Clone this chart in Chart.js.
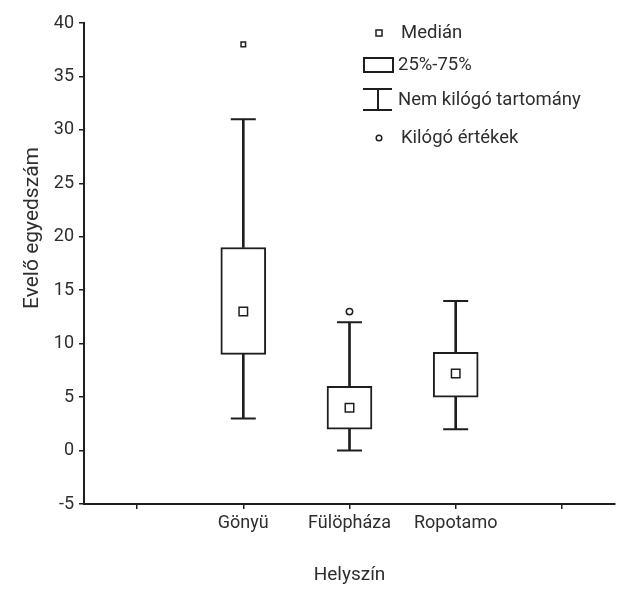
<!DOCTYPE html>
<html><head><meta charset="utf-8">
<script src="https://cdn.jsdelivr.net/npm/chart.js@4/dist/chart.umd.min.js"></script>
<style>html,body{margin:0;padding:0;background:#fff;overflow:hidden}#wrap{width:619px;height:590px;overflow:hidden}canvas{display:block}</style>
</head><body><div id="wrap"><canvas id="c" width="619" height="590"></canvas></div>
<script>
// ---- data ----
const categories = ['', 'Gönyü', 'Fülöpháza', 'Ropotamo', ''];
const q1 = [null, 9, 2, 5, null];
const q3 = [null, 19, 6, 9.2, null];
const median = [null, 13, 4, 7.2, null];
const whiskerMin = [null, 3, 0, 2, null];
const whiskerMax = [null, 31, 12, 14, null];
const outliers = [null, 38, 13, null, null];
const outlierStyles = ['circle', 'rect', 'circle', 'circle', 'circle'];
const yTicks = [-5, 0, 5, 10, 15, 20, 25, 30, 35, 40];
const legendLabels = ['Medián', '25%-75%', 'Nem kilógó tartomány', 'Kilógó értékek'];
const yTitle = 'Evelő egyedszám';
const xTitle = 'Helyszín';

// ---- style ----
const FONT = 'Roboto, "Liberation Sans", sans-serif';
const INK = '#1e1e1e';
const TXT = '#2e2e2e';

const pair = (a, b) => categories.map((c, i) => (a[i] == null ? null : [a[i], b[i]]));

const extras = {
  id: 'extras',
  afterDraw(chart) {
    const ctx = chart.ctx;
    ctx.save();
    // y title
    ctx.fillStyle = TXT;
    ctx.font = '21px ' + FONT;
    ctx.textAlign = 'center';
    ctx.textBaseline = 'middle';
    ctx.translate(33, 228);
    ctx.rotate(-Math.PI / 2);
    ctx.fillText(yTitle, 0, 0);
    ctx.restore();

    // legend
    ctx.save();
    ctx.strokeStyle = INK;
    ctx.fillStyle = TXT;
    ctx.font = '18.5px ' + FONT;
    ctx.textAlign = 'left';
    ctx.textBaseline = 'middle';
    const rows = [33, 65, 100, 138];
    // median marker
    ctx.lineWidth = 1.5;
    ctx.strokeRect(376, rows[0] - 3, 6, 6);
    ctx.fillText(legendLabels[0], 401, rows[0]);
    // box
    ctx.lineWidth = 2;
    ctx.strokeRect(364, 58, 29, 14);
    ctx.fillText(legendLabels[1], 398, rows[1]);
    // whisker I
    ctx.beginPath();
    ctx.moveTo(363, 89); ctx.lineTo(392, 89);
    ctx.moveTo(363, 110); ctx.lineTo(392, 110);
    ctx.moveTo(378, 89); ctx.lineTo(378, 110);
    ctx.stroke();
    ctx.fillText(legendLabels[2], 398, rows[2]);
    // outlier
    ctx.lineWidth = 1.5;
    ctx.beginPath();
    ctx.arc(379, rows[3], 2.8, 0, Math.PI * 2);
    ctx.stroke();
    ctx.fillText(legendLabels[3], 401, rows[3]);
    ctx.restore();
  }
};

new Chart(document.getElementById('c'), {
  type: 'bar',
  data: {
    labels: categories,
    datasets: [
      { type: 'line', label: 'median', data: median, showLine: false,
        pointStyle: 'rect', pointRadius: 6, pointBackgroundColor: '#fff',
        pointBorderColor: INK, pointBorderWidth: 1.5 },
      { type: 'line', label: 'outliers', data: outliers, showLine: false,
        pointStyle: outlierStyles, pointRadius: 3.2, pointBackgroundColor: '#fff',
        pointBorderColor: INK, pointBorderWidth: 1.5 },
      { type: 'line', label: 'capMax', data: whiskerMax, showLine: false,
        pointStyle: 'line', pointRadius: 12.5, pointBorderColor: INK, pointBorderWidth: 2 },
      { type: 'line', label: 'capMin', data: whiskerMin, showLine: false,
        pointStyle: 'line', pointRadius: 12.5, pointBorderColor: INK, pointBorderWidth: 2 },
      { label: 'box', data: pair(q1, q3), backgroundColor: '#fff', borderColor: INK,
        borderWidth: 2, borderSkipped: false, barThickness: 45, grouped: false },
      { label: 'whiskerUp', data: pair(q3, whiskerMax), backgroundColor: INK,
        borderWidth: 0, barThickness: 2, grouped: false },
      { label: 'whiskerDown', data: pair(whiskerMin, q1), backgroundColor: INK,
        borderWidth: 0, barThickness: 2, grouped: false }
    ]
  },
  options: {
    responsive: false,
    animation: false,
    devicePixelRatio: 1,
    layout: { autoPadding: false, padding: { top: 23, right: 4, left: 0, bottom: 0 } },
    plugins: { legend: { display: false }, tooltip: { enabled: false } },
    scales: {
      x: {
        offset: true,
        grid: { display: true, drawOnChartArea: false, offset: false, tickLength: 5, color: INK, lineWidth: 1.5 },
        border: { display: true, color: INK, width: 2 },
        ticks: { color: TXT, font: { family: FONT, size: 18 }, padding: 4, maxRotation: 0, autoSkip: false },
        title: { display: true, text: xTitle, color: TXT, font: { family: FONT, size: 19 }, padding: { top: 0, bottom: 3 } },
        afterFit(s) { s.height = 86; }
      },
      y: {
        min: -5, max: 40,
        afterBuildTicks(s) { s.ticks = yTicks.map(v => ({ value: v })); },
        grid: { display: true, drawOnChartArea: false, tickLength: 5, color: INK, lineWidth: 1.5 },
        border: { display: true, color: INK, width: 2 },
        ticks: { color: TXT, font: { family: FONT, size: 18 }, padding: 5 },
        afterFit(s) { s.width = 84; }
      }
    }
  },
  plugins: [extras]
});
</script></body></html>
